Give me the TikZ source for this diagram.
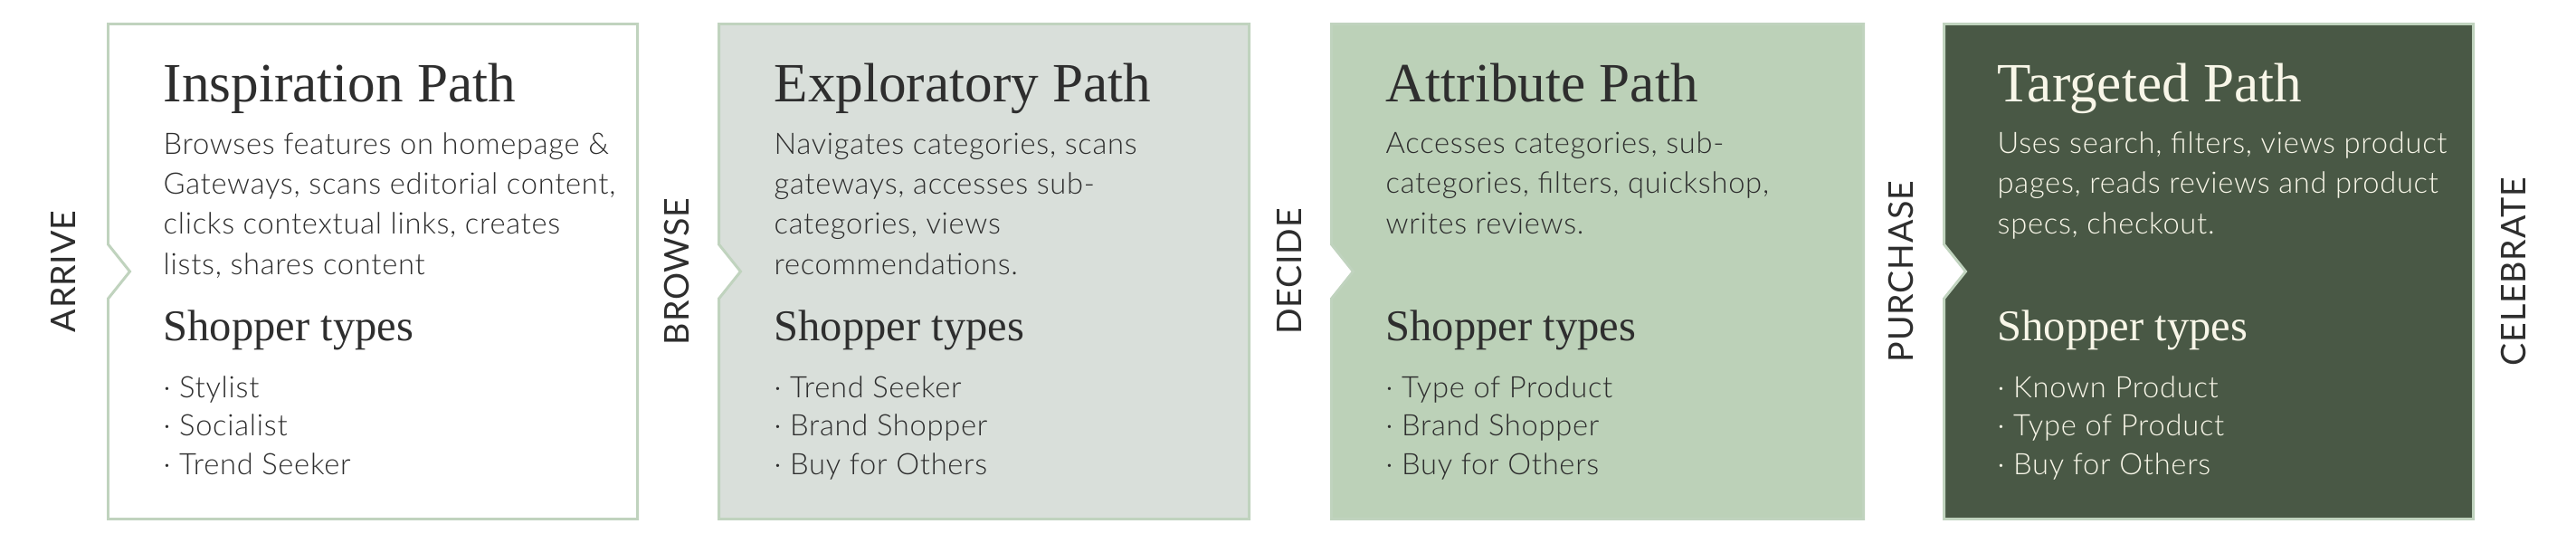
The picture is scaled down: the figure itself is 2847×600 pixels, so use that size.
\documentclass[tikz,border=0pt]{standalone}
\usepackage{fontspec}
\newfontfamily\headfont{Liberation Serif}
\newfontfamily\bodyfont{Lato Light}[LetterSpace=2.2]
\newfontfamily\stagefont{Lato}[LetterSpace=2]
\definecolor{sage}{HTML}{C0D3BE}
\definecolor{mist}{HTML}{D9DFDA}
\definecolor{moss}{HTML}{BCD1B8}
\definecolor{forest}{HTML}{495845}
\definecolor{ink}{HTML}{2E2E2E}
\definecolor{cream}{HTML}{F8F6E8}

\begin{document}
\begin{tikzpicture}[x=0.01cm,y=-0.01cm]
    \tikzstyle{every node}=[inner sep=0pt,text=ink];
    \tikzstyle{pathbox}=[draw=sage,line width=0.85pt];
    \tikzstyle{title}=[anchor=base west,font=\headfont\fontsize{17.4}{20}\selectfont];
    % multi-line nodes sit on the baseline of their last line
    \tikzstyle{blurb}=[anchor=base west,align=left,font=\bodyfont\fontsize{9.3}{12.6}\selectfont];
    \tikzstyle{types}=[anchor=base west,font=\headfont\fontsize{13.8}{16}\selectfont];
    \tikzstyle{bullets}=[anchor=base west,align=left,font=\bodyfont\fontsize{9.3}{11.95}\selectfont];
    \tikzstyle{stage}=[rotate=90,font=\stagefont\fontsize{10.7}{13}\selectfont];
    \useasboundingbox (0,0) rectangle (2847,600);

    % notched boxes
    \draw[pathbox,fill=white]  (119.5,26.5) -- (704.5,26.5) -- (704.5,573.5) -- (119.5,573.5) -- (119.5,330) -- (143.5,300) -- (119.5,270) -- cycle;
    \draw[pathbox,fill=mist]   (794.5,26.5) -- (1380.5,26.5) -- (1380.5,573.5) -- (794.5,573.5) -- (794.5,330) -- (818.5,300) -- (794.5,270) -- cycle;
    \draw[pathbox,fill=moss]   (1471.5,26.5) -- (2059.5,26.5) -- (2059.5,573.5) -- (1471.5,573.5) -- (1471.5,330) -- (1495.5,300) -- (1471.5,270) -- cycle;
    \draw[pathbox,fill=forest] (2148.5,26.5) -- (2733.5,26.5) -- (2733.5,573.5) -- (2148.5,573.5) -- (2148.5,330) -- (2172.5,300) -- (2148.5,270) -- cycle;

    \node at (70, 300)   (arrive)    [stage] {ARRIVE};
    \node at (748, 300)  (browse)    [stage] {BROWSE};
    \node at (1425, 300) (decide)    [stage] {DECIDE};
    \node at (2101, 300) (purchase)  [stage] {PURCHASE};
    \node at (2778, 300) (celebrate) [stage] {CELEBRATE};

    \node at (180, 113) (t1) [title] {Inspiration Path};
    \node at (180, 303) (d1) [blurb] {Browses features on homepage \&\\Gateways, scans editorial content,\\clicks contextual links, creates\\lists, shares content};
    \node at (180, 376) (s1) [types] {Shopper types};
    \node at (180, 524) (b1) [bullets] {· Stylist\\· Socialist\\· Trend Seeker};

    \node at (855, 113) (t2) [title] {Exploratory Path};
    \node at (855, 303) (d2) [blurb] {Navigates categories, scans\\gateways, accesses sub-\\categories, views\\recommendations.};
    \node at (855, 376) (s2) [types] {Shopper types};
    \node at (855, 524) (b2) [bullets] {· Trend Seeker\\· Brand Shopper\\· Buy for Others};

    \node at (1531, 113) (t3) [title] {Attribute Path};
    \node at (1531, 258) (d3) [blurb] {Accesses categories, sub-\\categories, filters, quickshop,\\writes reviews.};
    \node at (1531, 376) (s3) [types] {Shopper types};
    \node at (1531, 524) (b3) [bullets] {· Type of Product\\· Brand Shopper\\· Buy for Others};

    \node at (2207, 113) (t4) [title,text=cream] {Targeted Path};
    \node at (2207, 258) (d4) [blurb,text=cream] {Uses search, filters, views product\\pages, reads reviews and product\\specs, checkout.};
    \node at (2207, 376) (s4) [types,text=cream] {Shopper types};
    \node at (2207, 524) (b4) [bullets,text=cream] {· Known Product\\· Type of Product\\· Buy for Others};
\end{tikzpicture}
\end{document}
